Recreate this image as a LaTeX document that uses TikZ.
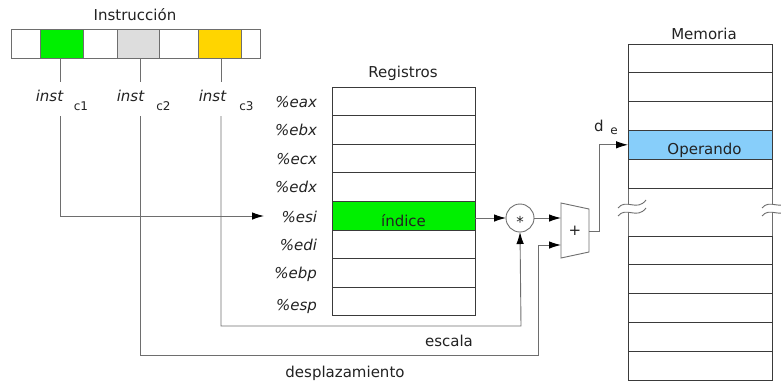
\documentclass[tikz,border=0pt]{standalone}
\usepackage{fontspec}
\setmainfont{DejaVu Sans}
\usetikzlibrary{arrows.meta,calc}
\definecolor{lc}{HTML}{6E6E6E}
\definecolor{dk}{HTML}{3A3A3A}
\definecolor{txt}{HTML}{222222}
\definecolor{gcell}{HTML}{00F000}
\definecolor{ycell}{HTML}{FFD500}
\definecolor{lgcell}{HTML}{DDDDDD}
\definecolor{bcell}{HTML}{87CEFA}
\begin{document}
\begin{tikzpicture}[x=1pt,y=-1pt,
  every node/.style={font=\fontsize{15}{18}\selectfont, text=txt, inner sep=0pt, outer sep=0pt},
  ln/.style={draw=lc, line width=0.9pt},
  arr/.style={ln, -{Latex[length=12pt,width=7.5pt,color=black]}},
  cell/.style={draw=lc, line width=0.9pt, minimum height=29pt},
  reg/.style={draw=dk, line width=0.9pt, minimum width=143pt, minimum height=28.6pt},
  mem/.style={draw=dk, line width=0.9pt, minimum width=144pt, minimum height=28.8pt},
  rlab/.style={anchor=east, font=\fontsize{15}{18}\selectfont\itshape},
  itl/.style={font=\fontsize{15}{18}\selectfont\itshape},
  sub/.style={font=\fontsize{12}{14}\selectfont}]
\useasboundingbox (0,0) rectangle (781,384);

% Instruction
\node (title) at (135,15) {Instrucción};
\node[cell, minimum width=29pt] (i1) at (25.5,43.5) {};
\node[cell, minimum width=43pt, fill=gcell] (i2) at (61.5,43.5) {};
\node[cell, minimum width=34pt] (i3) at (100,43.5) {};
\node[cell, minimum width=42pt, fill=lgcell] (i4) at (138,43.5) {};
\node[cell, minimum width=39pt] (i5) at (178.5,43.5) {};
\node[cell, minimum width=43pt, fill=ycell] (i6) at (219.5,43.5) {};
\node[cell, minimum width=19pt] (i7) at (250.5,43.5) {};

\node[itl] (inst1) at (49.5,96) {inst};
\node[sub] (sub1) at (81,106) {c1};
\node[itl] (inst2) at (130.5,96) {inst};
\node[sub] (sub2) at (163.5,106) {c2};
\node[itl] (inst3) at (212.5,96) {inst};
\node[sub] (sub3) at (246.5,106) {c3};

\coordinate (x1) at (60,0);
\coordinate (x2) at (140,0);
\coordinate (x3) at (221,0);
\draw[ln] (x1 |- i2.south) -- (x1 |- 0,82);
\draw[ln] (x2 |- i4.south) -- (x2 |- 0,82);
\draw[ln] (x3 |- i6.south) -- (x3 |- 0,82);

% Registers
\node (regt) at (403,73) {Registros};
\foreach \i in {0,1,2,3,5,6,7}{
  \node[reg] (r\i) at (403.5,{101.3+28.6*\i}) {};
}
\node[reg, fill=gcell] (r4) at (403.5,{101.3+28.6*4}) {};
\node (idx) at (403.5,221) {índice};
\node[rlab] (l0) at (317,102) {\%eax};
\node[rlab] (l1) at (317,130) {\%ebx};
\node[rlab] (l2) at (317,159) {\%ecx};
\node[rlab] (l3) at (317,187) {\%edx};
\node[rlab] (l4) at (317,217) {\%esi};
\node[rlab] (l5) at (317,245) {\%edi};
\node[rlab] (l6) at (317,274) {\%ebp};
\node[rlab] (l7) at (317,306) {\%esp};

% Multiplier and adder
\node[circle, draw=lc, line width=0.9pt, minimum size=28pt] (mul) at (520,218) {};
\node at (520,222) {*};
\draw[ln] (561,203) -- (589,209) -- (589,252) -- (561,258) -- cycle;
\node (add) at (575,231) {+};
\coordinate (addin1) at (561,218);
\coordinate (addin2) at (561,245);
\coordinate (addout) at (589,231);

% Memory
\node (memt) at (704,34) {Memoria};
\draw[ln] (628,44) rectangle (772,380);
\foreach \i in {0,1,2,4}{
  \node[mem] (m\i) at (700,{58.4+28.8*\i}) {};
}
\node[mem, fill=bcell] (m3) at (700,{58.4+28.8*3}) {};
\node (op) at (704.5,150) {Operando};
\foreach \i in {0,1,2,3,4}{
  \node[mem] (n\i) at (700,{250.4+28.8*\i}) {};
}
% breaks
\fill[white] (618,208) .. controls (626,198) and (637,212) .. (646,200)
  -- (646,208) .. controls (637,220) and (626,206) .. (618,216) -- cycle;
\draw[ln] (618,208) .. controls (626,198) and (637,212) .. (646,200);
\draw[ln] (618,216) .. controls (626,206) and (637,220) .. (646,208);
\fill[white] (762,208) .. controls (770,198) and (781,212) .. (790,200)
  -- (790,208) .. controls (781,220) and (770,206) .. (762,216) -- cycle;
\draw[ln] (762,208) .. controls (770,198) and (781,212) .. (790,200);
\draw[ln] (762,216) .. controls (770,206) and (781,220) .. (790,208);

% connectors
\coordinate (esiin) at (264,216);
\draw[arr] (x1 |- 0,116) |- (esiin);
\coordinate (ccorner) at (521,326);
\draw[arr] (x3 |- 0,116) |- (ccorner) -- (mul.south);
\coordinate (dcorner) at (538,355);
\draw[arr] (x2 |- 0,116) |- (dcorner) |- (addin2);
\draw[arr] (r4.east |- addin1) -- (mul.west |- addin1);
\draw[arr] (mul.east |- addin1) -- (addin1);
\coordinate (ocorner) at (599,231);
\draw[arr] (addout) -- (ocorner) |- (m3.west);

\node (d) at (599,126) {d};
\node[sub] (e) at (614,131) {e};
\node (esc) at (449,341) {escala};
\node (desp) at (345,373) {desplazamiento};
\end{tikzpicture}
\end{document}
